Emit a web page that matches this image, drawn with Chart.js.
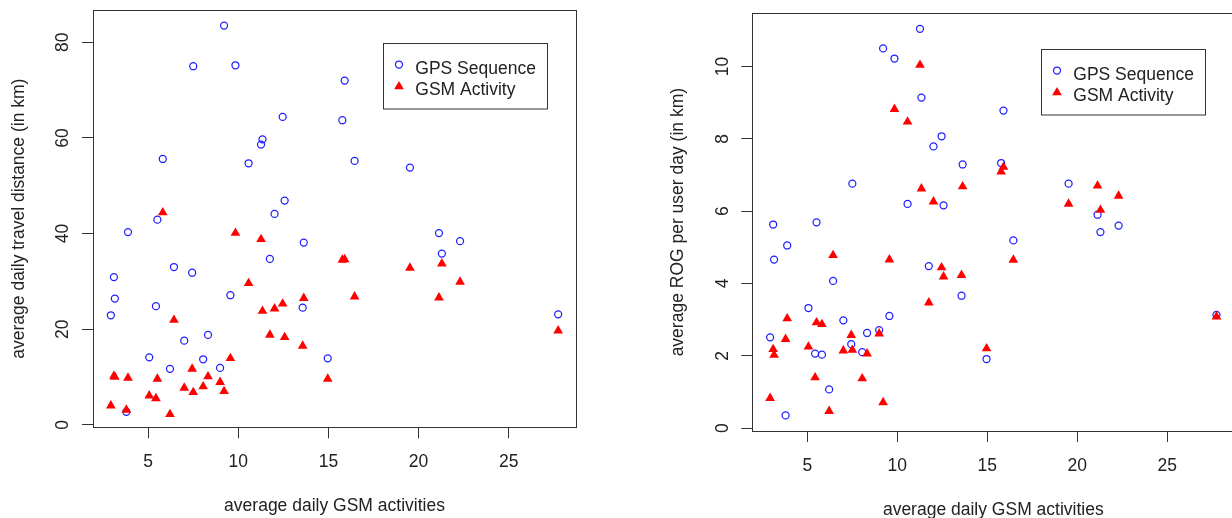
<!DOCTYPE html>
<html><head><meta charset="utf-8">
<script src="https://cdn.jsdelivr.net/npm/chart.js@4.4.1/dist/chart.umd.min.js"></script>
<style>
html,body{margin:0;padding:0;background:#fff;overflow:hidden;width:1232px;height:518px;}
#c1{position:absolute;left:0;top:0;}
#c2{position:absolute;left:660px;top:0;}
</style></head><body>
<canvas id="c1" width="600" height="518"></canvas>
<canvas id="c2" width="598" height="518"></canvas>
<script>
// ---- data ----
const gsmActivities = [2.93, 3.10, 3.15, 3.79, 3.88, 5.06, 5.43, 5.51, 5.81, 6.21, 6.43, 7.00, 7.44, 7.50, 8.05, 8.32, 8.99, 9.21, 9.56, 9.84, 10.57, 11.26, 11.34, 11.75, 12.01, 12.46, 12.57, 13.57, 13.63, 14.96, 15.77, 15.90, 16.45, 19.52, 21.13, 21.29, 22.30, 27.74];
const distGPS = [22.9, 30.9, 26.4, 2.7, 40.3, 14.1, 24.8, 42.9, 55.6, 11.7, 33.0, 17.6, 31.8, 75.0, 13.7, 18.8, 11.9, 83.5, 27.1, 75.2, 54.7, 58.6, 59.7, 34.7, 44.1, 64.4, 46.9, 24.5, 38.1, 13.9, 63.7, 72.0, 55.2, 53.8, 40.1, 35.8, 38.4, 23.1];
const distGSM = [4.0, 10.2, 10.0, 3.1, 9.8, 6.1, 5.5, 9.6, 44.4, 2.2, 21.9, 7.7, 11.7, 6.8, 8.0, 10.1, 8.9, 7.0, 13.9, 40.1, 29.6, 38.8, 23.8, 18.8, 24.3, 25.3, 18.3, 16.5, 26.5, 9.6, 34.5, 34.6, 26.8, 32.8, 26.6, 33.7, 29.9, 19.7];
const rogGPS = [2.51, 5.63, 4.66, 0.35, 5.05, 3.32, 2.06, 5.69, 2.03, 1.07, 4.07, 2.98, 2.32, 6.76, 2.10, 2.63, 2.71, 10.50, 3.10, 10.22, 6.20, 11.04, 9.14, 4.48, 7.79, 8.07, 6.16, 3.66, 7.29, 1.91, 7.33, 8.78, 5.19, 6.76, 5.90, 5.42, 5.60, 3.13];
const rogGSM = [0.83, 2.18, 2.02, 2.46, 3.03, 2.25, 1.40, 2.92, 2.87, 0.47, 4.78, 2.14, 2.57, 2.16, 1.37, 2.06, 2.61, 0.71, 4.66, 8.82, 8.47, 10.04, 6.62, 3.47, 6.26, 4.44, 4.19, 4.23, 6.68, 2.20, 7.09, 7.22, 4.65, 6.20, 6.70, 6.03, 6.42, 3.08];
const xTicks = [5, 10, 15, 20, 25];
const distTicks = [0, 20, 40, 60, 80];
const rogTicks = [0, 2, 4, 6, 8, 10];
const seriesNames = ['GPS Sequence', 'GSM Activity'];
const xTitle = 'average daily GSM activities';
const distTitle = 'average daily travel distance (in km)';
const rogTitle = 'average ROG per user day (in km)';

// ---- styles ----
const FONT = '17.5px "Liberation Sans", Arial, sans-serif';
const TEXT = '#222';
const LINE = '#333';
const BLUE = 'rgb(30,30,255)';
const RED = '#ff0000';
const CIRCLE_R = 3.5;
const CIRCLE_W = 1.25;
const TRI_R = 5.6;

function circle(ctx, x, y) {
  ctx.beginPath(); ctx.arc(x, y, CIRCLE_R, 0, Math.PI * 2);
  ctx.strokeStyle = BLUE; ctx.lineWidth = CIRCLE_W; ctx.stroke();
}
function triangle(ctx, x, y) {
  ctx.beginPath();
  let r = 0;
  for (let i = 0; i < 3; i++) {
    const px = x + Math.sin(r) * TRI_R, py = y - Math.cos(r) * TRI_R;
    if (i === 0) ctx.moveTo(px, py); else ctx.lineTo(px, py);
    r += Math.PI * 2 / 3;
  }
  ctx.closePath(); ctx.fillStyle = RED; ctx.fill();
}

const rdecor = {
  id: 'rdecor',
  afterDraw(chart, args, o) {
    const { ctx, chartArea: a, scales: { x, y } } = chart;
    ctx.save();
    ctx.strokeStyle = LINE; ctx.lineWidth = 1;
    const L = Math.round(a.left), T = Math.round(a.top), R = Math.round(a.right), B = Math.round(a.bottom);
    ctx.strokeRect(L + 0.5, T + 0.5, R - L, B - T);
    ctx.font = FONT; ctx.fillStyle = TEXT;
    ctx.textAlign = 'center'; ctx.textBaseline = 'alphabetic';
    xTicks.forEach(v => ctx.fillText(String(v), x.getPixelForValue(v), a.bottom + 40));
    ctx.fillText(xTitle, (a.left + a.right) / 2, a.bottom + 84);
    o.yTicks.forEach(v => {
      ctx.save(); ctx.translate(a.left - 24.7, y.getPixelForValue(v)); ctx.rotate(-Math.PI / 2);
      ctx.fillText(String(v), 0, 0); ctx.restore();
    });
    ctx.save(); ctx.translate(a.left - 69.5, (a.top + a.bottom) / 2); ctx.rotate(-Math.PI / 2);
    ctx.fillText(o.yTitle, 0, 0); ctx.restore();
    // legend
    const bw = 164, bh = 65.5;
    const bx = Math.round(a.right - 29 - bw), by = Math.round(a.top + o.legendTop);
    ctx.strokeStyle = LINE; ctx.lineWidth = 1;
    ctx.strokeRect(bx + 0.5, by + 0.5, bw, bh);
    circle(ctx, bx + 16, by + 21.5);
    triangle(ctx, bx + 16, by + 43.5);
    ctx.fillStyle = TEXT; ctx.textAlign = 'left';
    ctx.fillText(seriesNames[0], bx + 32.3, by + 30.5);
    ctx.fillText(seriesNames[1], bx + 32.3, by + 52.3);
    ctx.restore();
  }
};

function makeChart(id, gps, gsm, p) {
  const pts = arr => gsmActivities.map((v, i) => ({ x: v, y: arr[i] }));
  const axisCommon = {
    type: 'linear',
    ticks: { display: false },
    grid: { display: true, drawOnChartArea: false, drawTicks: true, tickLength: 11, color: LINE, lineWidth: 1 },
    border: { display: false }
  };
  return new Chart(document.getElementById(id), {
    type: 'scatter',
    data: { datasets: [
      { label: seriesNames[0], data: pts(gps), pointStyle: 'circle', pointRadius: CIRCLE_R, pointBorderWidth: CIRCLE_W, borderWidth: CIRCLE_W,
        pointBorderColor: BLUE, borderColor: BLUE, pointBackgroundColor: 'rgba(0,0,0,0)', backgroundColor: 'rgba(0,0,0,0)', order: 1 },
      { label: seriesNames[1], data: pts(gsm), pointStyle: 'triangle', pointRadius: TRI_R, pointBorderWidth: 0, borderWidth: 0,
        pointBackgroundColor: RED, backgroundColor: RED, order: 0 }
    ] },
    options: {
      responsive: false, animation: false, devicePixelRatio: 1, events: [],
      layout: { padding: { top: p.padTop, right: p.padRight, left: 0, bottom: 0 } },
      plugins: { legend: { display: false }, tooltip: { enabled: false },
        rdecor: { yTicks: p.yTicks, yTitle: p.yTitle, legendTop: p.legendTop } },
      scales: {
        x: Object.assign({}, axisCommon, { min: 1.94, max: 28.73,
          afterBuildTicks: s => { s.ticks = xTicks.map(v => ({ value: v })); },
          afterFit: s => { s.height = p.xHeight; } }),
        y: Object.assign({}, axisCommon, { min: p.yMin, max: p.yMax,
          afterBuildTicks: s => { s.ticks = p.yTicks.map(v => ({ value: v })); },
          afterFit: s => { s.width = p.yWidth; } })
      }
    },
    plugins: [rdecor]
  });
}

makeChart('c1', distGPS, distGSM, { yMin: -0.53, yMax: 86.76, yTicks: distTicks, yTitle: distTitle,
  padTop: 10, padRight: 24, xHeight: 90.7, yWidth: 93, legendTop: 33 });
makeChart('c2', rogGPS, rogGSM, { yMin: -0.08, yMax: 11.47, yTicks: rogTicks, yTitle: rogTitle,
  padTop: 13.3, padRight: 23.7, xHeight: 87, yWidth: 92.3, legendTop: 35.4 });
</script>
</body></html>
